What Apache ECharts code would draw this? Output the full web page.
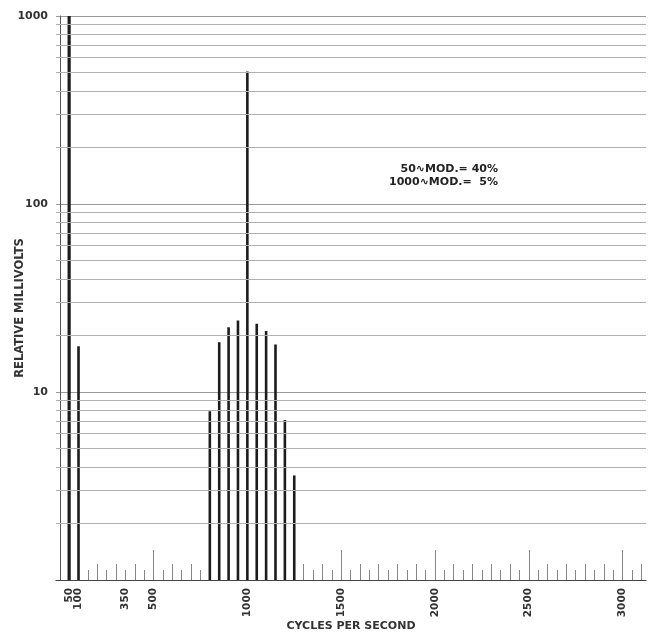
<!DOCTYPE html>
<html>
<head>
<meta charset="utf-8">
<script src="https://cdn.jsdelivr.net/npm/echarts@6/dist/echarts.min.js"></script>
<style>
  html, body { margin: 0; padding: 0; background: #ffffff; }
  #chart { width: 648px; height: 635px; }
</style>
</head>
<body>
<div id="chart"></div>
<script>
// ---- data ----
const freqs = [50, 100, 800, 850, 900, 950, 1000, 1050, 1100, 1150, 1200, 1250];
const millivolts = [1000, 17.5, 7.9, 18.4, 22.1, 24.0, 507, 23.1, 21.1, 17.9, 7.1, 3.6];
const xLabelValuesA = [50, 350, 500, 1000, 1500, 2000, 2500, 3000];
const xLabelValuesB = [100];
const xTicks50 = [];
for (let f = 50; f <= 3100; f += 50) xTicks50.push(f);
const xTicks100 = xTicks50.filter(f => f % 100 === 0);
const xTicks500 = xTicks50.filter(f => f % 500 === 0);
const yGridMinor = [2,3,4,5,6,7,8,9,20,30,40,50,60,70,80,90,200,300,400,500,600,700,800,900];
const annotationLines = ['50\u223FMOD.= 40%', '1000\u223FMOD.=  5%'];

const FONT = 'DejaVu Sans';
const INK = '#1c1c1c';
const X_MIN = -20, X_MAX = 3125;

function tickAxis(values, len, labelValues, withLine, name) {
  return {
    type: 'value', position: 'bottom', min: X_MIN, max: X_MAX,
    axisLine: { show: withLine, lineStyle: { color: '#444', width: 1.2 } },
    axisTick: { show: true, inside: true, length: len, customValues: values,
                lineStyle: { color: '#888', width: 1 } },
    axisLabel: labelValues ? {
      show: true, customValues: labelValues, rotate: 90, margin: 8,
      hideOverlap: false, showMinLabel: true, showMaxLabel: true,
      formatter: v => String(v),
      fontFamily: FONT, fontWeight: 'bold', fontSize: 10.5, color: '#333'
    } : { show: false },
    splitLine: { show: false },
    name: name || '',
    nameLocation: 'middle', nameGap: 41, nameMoveOverlap: false,
    nameTextStyle: { fontFamily: FONT, fontWeight: 'bold', fontSize: 11, color: '#333' }
  };
}

const chart = echarts.init(document.getElementById('chart'), null, { renderer: 'canvas' });
chart.setOption({
  animation: false,
  backgroundColor: '#ffffff',
  grid: { left: 56, right: 2, top: 16, bottom: 55, containLabel: false, outerBoundsMode: 'none' },
  xAxis: [
    tickAxis(xTicks50, 10, xLabelValuesA, true, 'CYCLES PER SECOND'),
    tickAxis(xTicks100, 16, xLabelValuesB, false, ''),
    tickAxis(xTicks500, 30, null, false, '')
  ],
  yAxis: {
    type: 'log', logBase: 10, min: 1, max: 1000,
    axisLine: { show: true, lineStyle: { color: '#555', width: 1 } },
    axisTick: { show: false },
    axisLabel: {
      margin: 8, fontFamily: FONT, fontWeight: 'bold', fontSize: 11, color: '#333',
      hideOverlap: false,
      formatter: v => (v === 1 ? '' : String(v))
    },
    splitLine: { show: true, lineStyle: { color: '#9a9a9a', width: 1 } },
    name: 'RELATIVE MILLIVOLTS',
    nameLocation: 'middle', nameGap: 30, nameMoveOverlap: false,
    nameTextStyle: { fontFamily: FONT, fontWeight: 'bold', fontSize: 11.5, color: '#333',
                     padding: [0, 20, 0, 0] }
  },
  series: [
    {
      type: 'line', data: [], silent: true, xAxisIndex: 0,
      markLine: {
        silent: true, symbol: 'none', label: { show: false },
        lineStyle: { color: '#b0b0b0', width: 1, type: 'solid' },
        data: yGridMinor.map(v => ({ yAxis: v }))
      }
    },
    {
      type: 'custom', xAxisIndex: 0,
      data: freqs.map((f, i) => [f, millivolts[i]]),
      renderItem: function (params, api) {
        const x = api.value(0), v = api.value(1);
        const p0 = api.coord([x, 1]);
        const p1 = api.coord([x, v]);
        return {
          type: 'line',
          shape: { x1: p0[0], y1: p0[1], x2: p1[0], y2: p1[1] },
          style: { stroke: INK, lineWidth: x === 50 ? 3.2 : 2.6 }
        };
      }
    }
  ],
  graphic: [
    { type: 'text', right: 150, top: 164,
      style: { text: annotationLines[0], fontFamily: FONT, fontWeight: 'bold', fontSize: 11,
               fill: '#222', textAlign: 'right' } },
    { type: 'text', right: 150, top: 177,
      style: { text: annotationLines[1], fontFamily: FONT, fontWeight: 'bold', fontSize: 11,
               fill: '#222', textAlign: 'right' } }
  ]
});
</script>
</body>
</html>
